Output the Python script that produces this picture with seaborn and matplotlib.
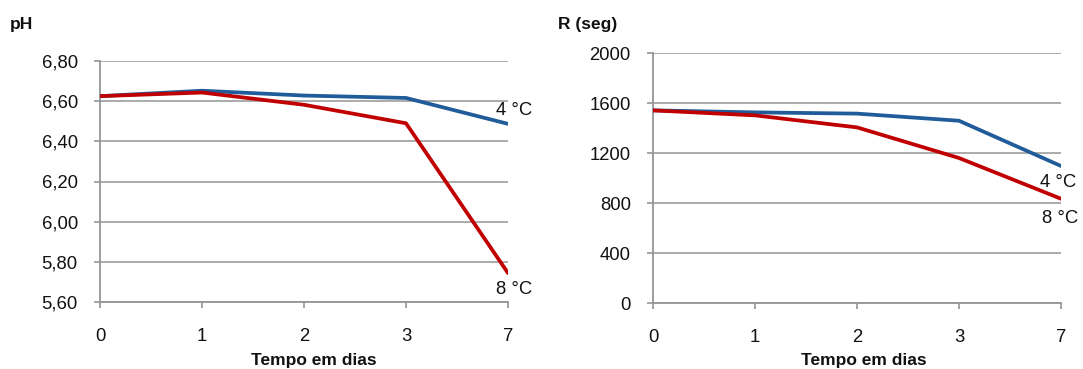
import matplotlib
matplotlib.use("Agg")
import matplotlib.pyplot as plt
import seaborn as sns
import pandas as pd

days = ["0", "1", "2", "3", "7"]
ph_4c = [6.625, 6.652, 6.628, 6.616, 6.487]
ph_8c = [6.625, 6.643, 6.582, 6.49, 5.744]
r_4c = [1541, 1525, 1515, 1458, 1096]
r_8c = [1541, 1501, 1405, 1160, 834]
series_labels = ["4 °C", "8 °C"]
ph_ticks = [5.60, 5.80, 6.00, 6.20, 6.40, 6.60, 6.80]
r_ticks = [0, 400, 800, 1200, 1600, 2000]

BLUE = "#1F5C99"
RED = "#C00000"
GRID = "#959595"
TXT = "#111111"
FS = 13.3

sns.set_theme(style="white")
plt.rcParams["font.family"] = ["Liberation Sans", "DejaVu Sans"]

fig = plt.figure(figsize=(10.83, 3.69), dpi=100)
ax1 = fig.add_axes([100/1083, 1-302/369, 408/1083, 241/369])
ax2 = fig.add_axes([653/1083, 1-303/369, 408/1083, 250/369])

pos = list(range(len(days)))

def make_df(a, b):
    return pd.DataFrame({
        "pos": pos + pos,
        "val": list(a) + list(b),
        "serie": [series_labels[0]]*len(a) + [series_labels[1]]*len(b),
    })

for ax, a, b, ticks, fmt in [
    (ax1, ph_4c, ph_8c, ph_ticks, lambda v: f"{v:.2f}".replace(".", ",")),
    (ax2, r_4c, r_8c, r_ticks, lambda v: f"{int(v)}"),
]:
    df = make_df(a, b)
    sns.lineplot(data=df, x="pos", y="val", hue="serie",
                 palette={series_labels[0]: BLUE, series_labels[1]: RED},
                 linewidth=2.7, legend=False, ax=ax, zorder=3)
    ax.set_xlim(0, len(days) - 1)
    ax.set_ylim(ticks[0], ticks[-1])
    ax.set_yticks(ticks)
    ax.set_yticklabels([fmt(v) for v in ticks])
    ax.set_xticks(pos)
    ax.set_xticklabels(days)
    ax.set_xlabel("")
    ax.set_ylabel("")
    ax.yaxis.grid(True, color=GRID, linewidth=1.1)
    ax.xaxis.grid(False)
    for s in ["top", "right"]:
        ax.spines[s].set_visible(False)
    for s in ["left", "bottom"]:
        ax.spines[s].set_color(GRID)
        ax.spines[s].set_linewidth(1.3)
    ax.tick_params(axis="x", bottom=True, direction="out", length=4, width=1.2,
                   color=GRID, pad=15, labelsize=FS, labelcolor=TXT)
    ax.tick_params(axis="y", left=True, direction="out", length=4, width=1.2,
                   color=GRID, pad=12, labelsize=FS, labelcolor=TXT)

# series labels
ax1.text(4.06, 6.553, series_labels[0], ha="center", va="center", fontsize=FS, color=TXT, clip_on=False)
ax1.text(4.06, 5.660, series_labels[1], ha="center", va="center", fontsize=FS, color=TXT, clip_on=False)
ax2.text(3.97, 963, series_labels[0], ha="center", va="center", fontsize=FS, color=TXT, clip_on=False)
ax2.text(3.99, 675, series_labels[1], ha="center", va="center", fontsize=FS, color=TXT, clip_on=False)

fig.text(10/1083, 1-25/369, "pH", ha="left", va="center", fontsize=12.5, fontweight="bold", color=TXT)
fig.text(558/1083, 1-25/369, "R (seg)", ha="left", va="center", fontsize=12.5, fontweight="bold", color=TXT)
fig.text(314/1083, 1-360/369, "Tempo em dias", ha="center", va="center", fontsize=12.5, fontweight="bold", color=TXT)
fig.text(864/1083, 1-360/369, "Tempo em dias", ha="center", va="center", fontsize=12.5, fontweight="bold", color=TXT)

fig.savefig("out.png", dpi=100, facecolor="white")
